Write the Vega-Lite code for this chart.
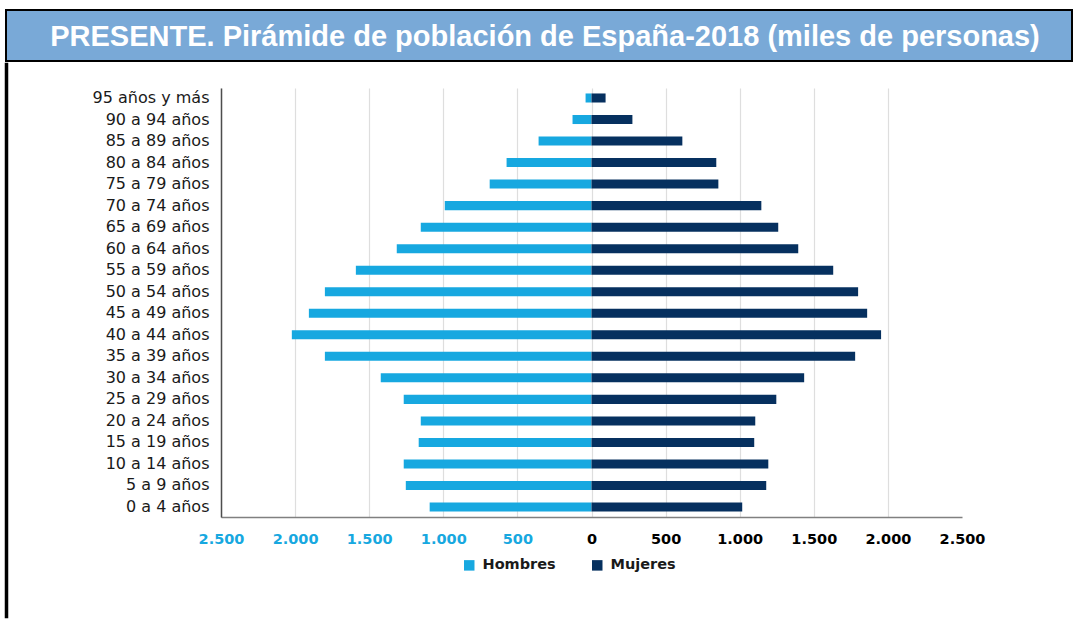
{
  "$schema": "https://vega.github.io/schema/vega-lite/v6.json",
  "padding": {"left": 4, "top": 9, "right": 0, "bottom": 0},
  "background": "white",
  "config": {"view": {"stroke": null}, "concat": {"spacing": 0}},
  "resolve": {"legend": {"color": "independent"}},
  "datasets": {
    "piramide": [
      {"edad": "95 años y más", "sexo": "Hombres", "miles": -40},
      {"edad": "95 años y más", "sexo": "Mujeres", "miles": 95},
      {"edad": "90 a 94 años", "sexo": "Hombres", "miles": -128},
      {"edad": "90 a 94 años", "sexo": "Mujeres", "miles": 276},
      {"edad": "85 a 89 años", "sexo": "Hombres", "miles": -357},
      {"edad": "85 a 89 años", "sexo": "Mujeres", "miles": 613},
      {"edad": "80 a 84 años", "sexo": "Hombres", "miles": -573},
      {"edad": "80 a 84 años", "sexo": "Mujeres", "miles": 842},
      {"edad": "75 a 79 años", "sexo": "Hombres", "miles": -687},
      {"edad": "75 a 79 años", "sexo": "Mujeres", "miles": 856},
      {"edad": "70 a 74 años", "sexo": "Hombres", "miles": -990},
      {"edad": "70 a 74 años", "sexo": "Mujeres", "miles": 1146},
      {"edad": "65 a 69 años", "sexo": "Hombres", "miles": -1152},
      {"edad": "65 a 69 años", "sexo": "Mujeres", "miles": 1260},
      {"edad": "60 a 64 años", "sexo": "Hombres", "miles": -1314},
      {"edad": "60 a 64 años", "sexo": "Mujeres", "miles": 1395},
      {"edad": "55 a 59 años", "sexo": "Hombres", "miles": -1590},
      {"edad": "55 a 59 años", "sexo": "Mujeres", "miles": 1631},
      {"edad": "50 a 54 años", "sexo": "Hombres", "miles": -1799},
      {"edad": "50 a 54 años", "sexo": "Mujeres", "miles": 1799},
      {"edad": "45 a 49 años", "sexo": "Hombres", "miles": -1907},
      {"edad": "45 a 49 años", "sexo": "Mujeres", "miles": 1860},
      {"edad": "40 a 44 años", "sexo": "Hombres", "miles": -2022},
      {"edad": "40 a 44 años", "sexo": "Mujeres", "miles": 1954},
      {"edad": "35 a 39 años", "sexo": "Hombres", "miles": -1799},
      {"edad": "35 a 39 años", "sexo": "Mujeres", "miles": 1779},
      {"edad": "30 a 34 años", "sexo": "Hombres", "miles": -1422},
      {"edad": "30 a 34 años", "sexo": "Mujeres", "miles": 1435},
      {"edad": "25 a 29 años", "sexo": "Hombres", "miles": -1267},
      {"edad": "25 a 29 años", "sexo": "Mujeres", "miles": 1247},
      {"edad": "20 a 24 años", "sexo": "Hombres", "miles": -1152},
      {"edad": "20 a 24 años", "sexo": "Mujeres", "miles": 1105},
      {"edad": "15 a 19 años", "sexo": "Hombres", "miles": -1166},
      {"edad": "15 a 19 años", "sexo": "Mujeres", "miles": 1098},
      {"edad": "10 a 14 años", "sexo": "Hombres", "miles": -1267},
      {"edad": "10 a 14 años", "sexo": "Mujeres", "miles": 1193},
      {"edad": "5 a 9 años", "sexo": "Hombres", "miles": -1253},
      {"edad": "5 a 9 años", "sexo": "Mujeres", "miles": 1179},
      {"edad": "0 a 4 años", "sexo": "Hombres", "miles": -1092},
      {"edad": "0 a 4 años", "sexo": "Mujeres", "miles": 1017}
    ]
  },
  "vconcat": [
    {
      "width": 1066,
      "height": 51,
      "view": {"fill": "#79a9d7", "stroke": "black", "strokeWidth": 2},
      "data": {"values": [{"titulo": "PRESENTE. Pirámide de población de España-2018 (miles de personas)"}]},
      "mark": {"type": "text", "font": "Liberation Sans", "fontWeight": "bold", "fontSize": 29, "color": "white", "align": "center", "baseline": "middle", "dx": 6, "dy": 1},
      "encoding": {"text": {"field": "titulo", "type": "nominal"}}
    },
    {
      "spacing": 72,
      "resolve": {"legend": {"color": "independent"}},
      "hconcat": [
        {
          "width": 1,
          "height": 553,
          "view": {"stroke": "black", "strokeWidth": 2.5},
          "data": {"values": [{"t": ""}]},
          "mark": {"type": "text"},
          "encoding": {"text": {"field": "t", "type": "nominal"}}
        },
        {
          "spacing": 0,
          "resolve": {"legend": {"color": "independent"}},
          "vconcat": [
            {
              "width": 1,
              "height": 24,
              "data": {"values": [{"t": ""}]},
              "mark": {"type": "text"},
              "encoding": {"text": {"field": "t", "type": "nominal"}}
            },
            {
              "width": 741,
              "height": 429,
              "data": {"name": "piramide"},
              "mark": {"type": "bar"},
              "encoding": {
                "y": {
                  "field": "edad",
                  "type": "nominal",
                  "sort": null,
                  "scale": {"paddingInner": 0.58, "paddingOuter": 0.254},
                  "axis": {
                    "title": null,
                    "ticks": false,
                    "grid": false,
                    "domainColor": "#4d4d4d",
                    "domainWidth": 1.5,
                    "labelFont": "DejaVu Sans",
                    "labelFontSize": 16,
                    "labelColor": "#1a1a1a",
                    "labelPadding": 12,
                    "minExtent": 140,
                    "maxExtent": 140
                  }
                },
                "x": {
                  "field": "miles",
                  "type": "quantitative",
                  "stack": null,
                  "scale": {"domain": [-2500, 2500], "nice": false},
                  "axis": {
                    "title": null,
                    "values": [-2500, -2000, -1500, -1000, -500, 0, 500, 1000, 1500, 2000, 2500],
                    "ticks": false,
                    "labelFlush": false,
                    "labelExpr": "replace(format(abs(datum.value), ','), ',', '.')",
                    "labelFont": "DejaVu Sans",
                    "labelFontWeight": "bold",
                    "labelFontSize": 14.5,
                    "labelColor": {"condition": {"test": "datum.value < 0", "value": "#17a8e0"}, "value": "black"},
                    "labelPadding": 15,
                    "domainColor": "#808080",
                    "domainWidth": 1.5,
                    "grid": true,
                    "gridColor": {"condition": {"test": "datum.value >= 2500", "value": "transparent"}, "value": "#dedede"},
                    "gridWidth": 1.2
                  }
                },
                "color": {
                  "field": "sexo",
                  "type": "nominal",
                  "scale": {"domain": ["Hombres", "Mujeres"], "range": ["#17a8e0", "#06305f"]},
                  "legend": {
                    "title": null,
                    "orient": "none",
                    "legendX": 241,
                    "legendY": 470,
                    "direction": "horizontal",
                    "symbolType": "square",
                    "symbolSize": 110,
                    "symbolStrokeWidth": 0,
                    "labelFont": "DejaVu Sans",
                    "labelFontWeight": "bold",
                    "labelFontSize": 14.5,
                    "labelColor": "#1a1a1a",
                    "labelOffset": 6,
                    "columnPadding": 34
                  }
                }
              }
            }
          ]
        }
      ]
    }
  ]
}
